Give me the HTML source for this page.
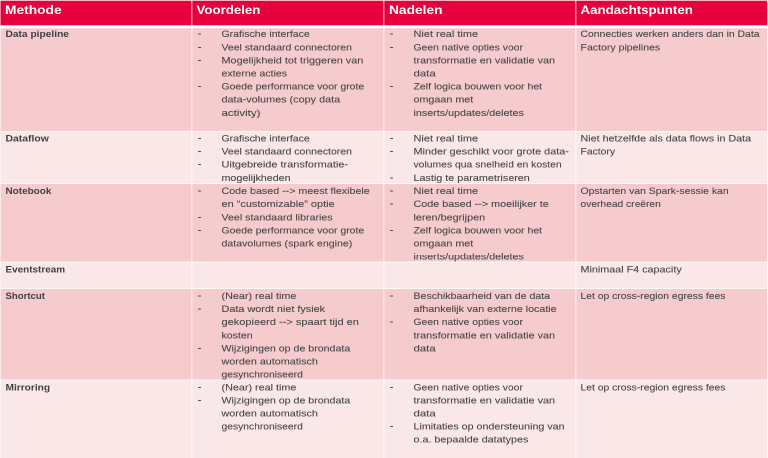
<!DOCTYPE html>
<html lang="nl">
<head>
<meta charset="utf-8">
<title>Methode – Voordelen – Nadelen – Aandachtspunten</title>
<style>
html,body{margin:0;padding:0;background:#fff;}
body{width:768px;height:458px;overflow:hidden;position:relative;font-family:"Liberation Sans",sans-serif;}
#tbl{position:absolute;left:0;top:0;width:1536px;height:916px;overflow:hidden;transform:scale(0.5);transform-origin:0 0;will-change:transform;background:#fff;}
.row{position:absolute;left:1px;width:1533px;}
.hd{background:linear-gradient(to bottom,rgba(231,0,59,.6) 0,rgba(231,0,59,.6) 1px,#E7003B 1px,#E7003B 49px,rgba(231,0,59,.6) 49px,rgba(231,0,59,.6) 50px);}
.b1{background:#F5CBCE;}
.b2{background:#FAE7E8;}
.vs{position:absolute;top:0;height:916px;width:3px;background:rgba(255,255,255,0.55);}
.hs{position:absolute;left:0;width:1536px;height:2px;background:rgba(255,255,255,0.8);}
.x{position:absolute;white-space:pre;margin:0;padding:0;transform-origin:0 0;}
.h{font-weight:700;font-size:23px;line-height:32px;color:#fff;}
.l{font-weight:700;font-size:18.6px;line-height:26px;color:#404040;}
.t{font-weight:400;font-size:18.4px;line-height:26px;color:#474747;-webkit-text-stroke:0.2px #474747;}
.d{font-weight:400;font-size:23px;line-height:26px;color:#474747;-webkit-text-stroke:0.2px #474747;}
</style>
</head>
<body>
<div id="tbl" role="table">
<div role="row">
<div class="row hd" style="top:1px;height:50px"></div>
<div role="columnheader">
<div class="x h" style="left:10.36px;top:4px;transform:scaleX(1.1980)">Methode</div>
</div>
<div role="columnheader">
<div class="x h" style="left:392.81px;top:4px;transform:scaleX(1.1540)">Voordelen</div>
</div>
<div role="columnheader">
<div class="x h" style="left:777.76px;top:4px;transform:scaleX(1.1963)">Nadelen</div>
</div>
<div role="columnheader">
<div class="x h" style="left:1160.8px;top:4px;transform:scaleX(1.1574)">Aandachtspunten</div>
</div>
</div>
<div role="row">
<div class="row b1" style="top:56px;height:207px"></div>
<div role="cell">
<div class="x l" style="left:10.58px;top:55px;transform:scaleX(1.0970)">Data pipeline</div>
</div>
<div role="cell">
<div class="x d" style="left:395.3px;top:53px">-</div>
<div class="x t" style="left:442.65px;top:55px;transform:scaleX(1.1427)">Grafische interface</div>
<div class="x d" style="left:395.3px;top:80px">-</div>
<div class="x t" style="left:442.66px;top:82px;transform:scaleX(1.1389)">Veel standaard connectoren</div>
<div class="x d" style="left:395.3px;top:106px">-</div>
<div class="x t" style="left:442.62px;top:108px;transform:scaleX(1.1804)">Mogelijkheid tot triggeren van</div>
<div class="x t" style="left:442.65px;top:134px;transform:scaleX(1.1446)">externe acties</div>
<div class="x d" style="left:395.3px;top:158px">-</div>
<div class="x t" style="left:442.66px;top:160px;transform:scaleX(1.1348)">Goede performance voor grote</div>
<div class="x t" style="left:442.62px;top:186px;transform:scaleX(1.1784)">data-volumes (copy data</div>
<div class="x t" style="left:442.57px;top:213px;transform:scaleX(1.2479)">activity)</div>
</div>
<div role="cell">
<div class="x d" style="left:779.3px;top:53px">-</div>
<div class="x t" style="left:826.61px;top:55px;transform:scaleX(1.1923)">Niet real time</div>
<div class="x d" style="left:779.3px;top:80px">-</div>
<div class="x t" style="left:826.67px;top:82px;transform:scaleX(1.1263)">Geen native opties voor</div>
<div class="x t" style="left:826.62px;top:108px;transform:scaleX(1.1786)">transformatie en validatie van</div>
<div class="x t" style="left:826.57px;top:134px;transform:scaleX(1.2391)">data</div>
<div class="x d" style="left:779.3px;top:158px">-</div>
<div class="x t" style="left:826.65px;top:160px;transform:scaleX(1.1436)">Zelf logica bouwen voor het</div>
<div class="x t" style="left:826.63px;top:186px;transform:scaleX(1.1685)">omgaan met</div>
<div class="x t" style="left:826.63px;top:213px;transform:scaleX(1.1664)">inserts/updates/deletes</div>
</div>
<div role="cell">
<div class="x t" style="left:1161.26px;top:55px;transform:scaleX(1.1295)">Connecties werken anders dan in Data</div>
<div class="x t" style="left:1161.25px;top:82px;transform:scaleX(1.1465)">Factory pipelines</div>
</div>
</div>
<div role="row">
<div class="row b2" style="top:263px;height:104px"></div>
<div role="cell">
<div class="x l" style="left:10.57px;top:264px;transform:scaleX(1.1170)">Dataflow</div>
</div>
<div role="cell">
<div class="x d" style="left:395.3px;top:262px">-</div>
<div class="x t" style="left:442.65px;top:264px;transform:scaleX(1.1427)">Grafische interface</div>
<div class="x d" style="left:395.3px;top:288px">-</div>
<div class="x t" style="left:442.66px;top:290px;transform:scaleX(1.1389)">Veel standaard connectoren</div>
<div class="x d" style="left:395.3px;top:314px">-</div>
<div class="x t" style="left:442.61px;top:316px;transform:scaleX(1.1903)">Uitgebreide transformatie-</div>
<div class="x t" style="left:442.64px;top:343px;transform:scaleX(1.1653)">mogelijkheden</div>
</div>
<div role="cell">
<div class="x d" style="left:779.3px;top:262px">-</div>
<div class="x t" style="left:826.61px;top:264px;transform:scaleX(1.1923)">Niet real time</div>
<div class="x d" style="left:779.3px;top:288px">-</div>
<div class="x t" style="left:826.62px;top:290px;transform:scaleX(1.1782)">Minder geschikt voor grote data-</div>
<div class="x t" style="left:826.67px;top:316px;transform:scaleX(1.1281)">volumes qua snelheid en kosten</div>
<div class="x d" style="left:779.3px;top:341px">-</div>
<div class="x t" style="left:826.63px;top:343px;transform:scaleX(1.1728)">Lastig te parametriseren</div>
</div>
<div role="cell">
<div class="x t" style="left:1161.23px;top:264px;transform:scaleX(1.1669)">Niet hetzelfde als data flows in Data</div>
<div class="x t" style="left:1161.27px;top:290px;transform:scaleX(1.1274)">Factory</div>
</div>
</div>
<div role="row">
<div class="row b1" style="top:367px;height:157px"></div>
<div role="cell">
<div class="x l" style="left:10.6px;top:369px;transform:scaleX(1.0697)">Notebook</div>
</div>
<div role="cell">
<div class="x d" style="left:395.3px;top:367px">-</div>
<div class="x t" style="left:442.64px;top:369px;transform:scaleX(1.1622)">Code based --&gt; meest flexibele</div>
<div class="x t" style="left:442.61px;top:395px;transform:scaleX(1.1902)">en “customizable” optie</div>
<div class="x d" style="left:395.3px;top:420px">-</div>
<div class="x t" style="left:442.64px;top:422px;transform:scaleX(1.1564)">Veel standaard libraries</div>
<div class="x d" style="left:395.3px;top:446px">-</div>
<div class="x t" style="left:442.66px;top:448px;transform:scaleX(1.1348)">Goede performance voor grote</div>
<div class="x t" style="left:442.65px;top:474px;transform:scaleX(1.1527)">datavolumes (spark engine)</div>
</div>
<div role="cell">
<div class="x d" style="left:779.3px;top:367px">-</div>
<div class="x t" style="left:826.61px;top:369px;transform:scaleX(1.1923)">Niet real time</div>
<div class="x d" style="left:779.3px;top:393px">-</div>
<div class="x t" style="left:826.63px;top:395px;transform:scaleX(1.1733)">Code based --&gt; moeilijker te</div>
<div class="x t" style="left:826.63px;top:422px;transform:scaleX(1.1775)">leren/begrijpen</div>
<div class="x d" style="left:779.3px;top:446px">-</div>
<div class="x t" style="left:826.65px;top:448px;transform:scaleX(1.1436)">Zelf logica bouwen voor het</div>
<div class="x t" style="left:826.63px;top:474px;transform:scaleX(1.1685)">omgaan met</div>
<div class="x t" style="left:826.63px;top:500px;transform:scaleX(1.1664)">inserts/updates/deletes</div>
</div>
<div role="cell">
<div class="x t" style="left:1161.26px;top:369px;transform:scaleX(1.1320)">Opstarten van Spark-sessie kan</div>
<div class="x t" style="left:1161.28px;top:395px;transform:scaleX(1.1140)">overhead creëren</div>
</div>
</div>
<div role="row">
<div class="row b2" style="top:524px;height:53px"></div>
<div role="cell">
<div class="x l" style="left:10.61px;top:526px;transform:scaleX(1.0675)">Eventstream</div>
</div>
<div role="cell">
</div>
<div role="cell">
</div>
<div role="cell">
<div class="x t" style="left:1161.23px;top:526px;transform:scaleX(1.1718)">Minimaal F4 capacity</div>
</div>
</div>
<div role="row">
<div class="row b1" style="top:577px;height:183px"></div>
<div role="cell">
<div class="x l" style="left:10.64px;top:579px;transform:scaleX(1.0307)">Shortcut</div>
</div>
<div role="cell">
<div class="x d" style="left:395.3px;top:577px">-</div>
<div class="x t" style="left:442.63px;top:579px;transform:scaleX(1.1718)">(Near) real time</div>
<div class="x d" style="left:395.3px;top:603px">-</div>
<div class="x t" style="left:442.62px;top:605px;transform:scaleX(1.1782)">Data wordt niet fysiek</div>
<div class="x t" style="left:442.61px;top:631px;transform:scaleX(1.1971)">gekopieerd --&gt; spaart tijd en</div>
<div class="x t" style="left:442.65px;top:658px;transform:scaleX(1.1478)">kosten</div>
<div class="x d" style="left:395.3px;top:682px">-</div>
<div class="x t" style="left:442.64px;top:684px;transform:scaleX(1.1552)">Wijzigingen op de brondata</div>
<div class="x t" style="left:442.63px;top:710px;transform:scaleX(1.1712)">worden automatisch</div>
<div class="x t" style="left:442.67px;top:736px;transform:scaleX(1.1200)">gesynchroniseerd</div>
</div>
<div role="cell">
<div class="x d" style="left:779.3px;top:577px">-</div>
<div class="x t" style="left:826.65px;top:579px;transform:scaleX(1.1515)">Beschikbaarheid van de data</div>
<div class="x t" style="left:826.64px;top:605px;transform:scaleX(1.1618)">afhankelijk van externe locatie</div>
<div class="x d" style="left:779.3px;top:629px">-</div>
<div class="x t" style="left:826.67px;top:631px;transform:scaleX(1.1263)">Geen native opties voor</div>
<div class="x t" style="left:826.62px;top:658px;transform:scaleX(1.1786)">transformatie en validatie van</div>
<div class="x t" style="left:826.57px;top:684px;transform:scaleX(1.2391)">data</div>
</div>
<div role="cell">
<div class="x t" style="left:1161.27px;top:579px;transform:scaleX(1.1251)">Let op cross-region egress fees</div>
</div>
</div>
<div role="row">
<div class="row b2" style="top:760px;height:156px"></div>
<div role="cell">
<div class="x l" style="left:10.59px;top:762px;transform:scaleX(1.0920)">Mirroring</div>
</div>
<div role="cell">
<div class="x d" style="left:395.3px;top:760px">-</div>
<div class="x t" style="left:442.63px;top:762px;transform:scaleX(1.1718)">(Near) real time</div>
<div class="x d" style="left:395.3px;top:786px">-</div>
<div class="x t" style="left:442.64px;top:788px;transform:scaleX(1.1552)">Wijzigingen op de brondata</div>
<div class="x t" style="left:442.63px;top:814px;transform:scaleX(1.1712)">worden automatisch</div>
<div class="x t" style="left:442.67px;top:840px;transform:scaleX(1.1200)">gesynchroniseerd</div>
</div>
<div role="cell">
<div class="x d" style="left:779.3px;top:760px">-</div>
<div class="x t" style="left:826.67px;top:762px;transform:scaleX(1.1263)">Geen native opties voor</div>
<div class="x t" style="left:826.62px;top:788px;transform:scaleX(1.1786)">transformatie en validatie van</div>
<div class="x t" style="left:826.57px;top:814px;transform:scaleX(1.2391)">data</div>
<div class="x d" style="left:779.3px;top:838px">-</div>
<div class="x t" style="left:826.64px;top:840px;transform:scaleX(1.1635)">Limitaties op ondersteuning van</div>
<div class="x t" style="left:826.63px;top:866px;transform:scaleX(1.1699)">o.a. bepaalde datatypes</div>
</div>
<div role="cell">
<div class="x t" style="left:1161.27px;top:762px;transform:scaleX(1.1251)">Let op cross-region egress fees</div>
</div>
</div>
<div class="vs" style="left:382px"></div>
<div class="vs" style="left:766px"></div>
<div class="vs" style="left:1150px"></div>
<div class="hs" style="top:56px;height:1px;background:rgba(255,255,255,.5)"></div>
<div class="hs" style="top:262px"></div>
<div class="hs" style="top:366px"></div>
<div class="hs" style="top:523px"></div>
<div class="hs" style="top:576px"></div>
<div class="hs" style="top:759px"></div>
</div>
</body>
</html>
